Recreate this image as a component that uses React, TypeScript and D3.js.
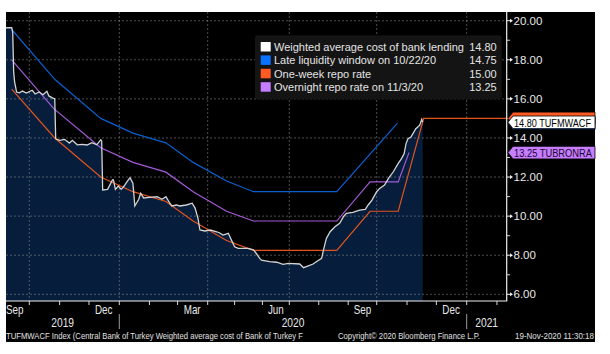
import React from "react";
import * as d3 from "d3";

// Weighted average cost of bank lending (TUFMWACF)
const wacf: [string, number][] = [
  ["2019-09-07", 19.64], ["2019-09-13", 19.64], ["2019-09-14", 19.42], ["2019-09-15", 17.37],
  ["2019-09-16", 16.86], ["2019-09-18", 16.35], ["2019-09-21", 16.31], ["2019-09-24", 16.4],
  ["2019-09-28", 16.3], ["2019-10-04", 16.44], ["2019-10-07", 16.25], ["2019-10-11", 16.35],
  ["2019-10-15", 16.21], ["2019-10-19", 16.39], ["2019-10-21", 16.15], ["2019-10-25", 16.04],
  ["2019-10-27", 16.01], ["2019-10-28", 13.96], ["2019-11-01", 13.88], ["2019-11-06", 13.93],
  ["2019-11-11", 13.74], ["2019-11-14", 13.88], ["2019-11-19", 13.65], ["2019-11-24", 13.67],
  ["2019-11-29", 13.64], ["2019-12-04", 13.76], ["2019-12-09", 13.65], ["2019-12-13", 13.91],
  ["2019-12-14", 13.85], ["2019-12-15", 11.34], ["2019-12-20", 11.37], ["2019-12-25", 11.85],
  ["2019-12-26", 11.85], ["2019-12-28", 11.37], ["2019-12-31", 11.54], ["2020-01-03", 11.37],
  ["2020-01-06", 11.54], ["2020-01-09", 11.76], ["2020-01-12", 11.97], ["2020-01-15", 11.68],
  ["2020-01-17", 10.52], ["2020-01-21", 10.86], ["2020-01-23", 11.17], ["2020-01-26", 10.93],
  ["2020-02-01", 10.96], ["2020-02-09", 10.99], ["2020-02-14", 10.86], ["2020-02-18", 10.99],
  ["2020-02-21", 10.74], ["2020-02-24", 10.52], ["2020-02-29", 10.57], ["2020-03-03", 10.52],
  ["2020-03-10", 10.57], ["2020-03-16", 10.66], ["2020-03-19", 10.41], ["2020-03-22", 9.89],
  ["2020-03-24", 9.29], ["2020-03-29", 9.24], ["2020-04-04", 9.29], ["2020-04-11", 9.2],
  ["2020-04-14", 9.15], ["2020-04-18", 9.03], ["2020-04-24", 9.12], ["2020-04-26", 8.92],
  ["2020-05-01", 8.43], ["2020-05-05", 8.35], ["2020-05-16", 8.35], ["2020-05-22", 8.27],
  ["2020-05-25", 8.1], ["2020-05-29", 7.84], ["2020-05-31", 7.75], ["2020-06-09", 7.67],
  ["2020-06-17", 7.64], ["2020-06-24", 7.53], ["2020-06-30", 7.58], ["2020-07-12", 7.55],
  ["2020-07-16", 7.36], ["2020-07-21", 7.45], ["2020-07-26", 7.55], ["2020-07-31", 7.72],
  ["2020-08-04", 7.84], ["2020-08-06", 8.27], ["2020-08-09", 8.86], ["2020-08-13", 9.2],
  ["2020-08-18", 9.46], ["2020-08-23", 9.63], ["2020-08-27", 9.97], ["2020-08-30", 10.14],
  ["2020-09-06", 10.19], ["2020-09-13", 10.31], ["2020-09-19", 10.35], ["2020-09-22", 10.57],
  ["2020-09-26", 10.82], ["2020-10-01", 11.25], ["2020-10-04", 11.42], ["2020-10-09", 11.59],
  ["2020-10-13", 11.93], ["2020-10-18", 12.27], ["2020-10-23", 12.7], ["2020-10-26", 12.92],
  ["2020-10-29", 13.19], ["2020-10-31", 13.71], ["2020-11-02", 13.96], ["2020-11-05", 14.05],
  ["2020-11-10", 14.47], ["2020-11-14", 14.65], ["2020-11-16", 14.95], ["2020-11-17", 14.8],
];

// Late liquidity window
const lateLiquidity: [string, number][] = [
  ["2019-09-13", 19.55], ["2019-10-27", 17.0], ["2019-12-13", 15.0], ["2020-01-15", 14.25],
  ["2020-02-18", 13.75], ["2020-03-17", 12.75], ["2020-04-22", 11.8], ["2020-05-22", 11.25],
  ["2020-08-20", 11.25], ["2020-10-22", 14.75],
];

// One-week repo rate
const oneWeekRepo: [string, number][] = [
  ["2019-09-13", 16.5], ["2019-10-27", 14.0], ["2019-12-13", 12.0], ["2020-01-15", 11.25],
  ["2020-02-18", 10.75], ["2020-03-17", 9.75], ["2020-04-22", 8.75], ["2020-05-22", 8.25],
  ["2020-08-20", 8.25], ["2020-09-24", 10.25], ["2020-10-23", 10.25], ["2020-11-18", 15.0],
  ["2021-02-11", 15.0],
];

// Overnight repo rate
const overnightRepo: [string, number][] = [
  ["2019-09-13", 18.0], ["2019-10-26", 15.5], ["2019-12-13", 13.5], ["2020-01-15", 12.75],
  ["2020-02-18", 12.25], ["2020-03-17", 11.25], ["2020-04-22", 10.25], ["2020-05-22", 9.75],
  ["2020-08-20", 9.75], ["2020-09-24", 11.75], ["2020-10-23", 11.75], ["2020-11-03", 13.25],
];

const legendLabels = [
  "Weighted average cost of bank lending",
  "Late liquidity window on 10/22/20",
  "One-week repo rate",
  "Overnight repo rate on 11/3/20",
];
const legendValues = ["14.80", "14.75", "15.00", "13.25"];
const legendColors = ["#ffffff", "#0a72ff", "#ff5a22", "#c77dff"];
const lineColors = ["#d4d4d4", "#0a5fd0", "#e2531f", "#a45ad8"];

const yTicks = [6, 8, 10, 12, 14, 16, 18, 20];
const yMinor = [7, 9, 11, 13, 15, 17, 19];
const monthLabels: [string, string][] = [
  ["2019-09-16", "Sep"], ["2019-12-16", "Dec"], ["2020-03-16", "Mar"],
  ["2020-06-16", "Jun"], ["2020-09-16", "Sep"], ["2020-12-16", "Dec"],
];
const years = ["2019", "2020", "2021"];
const gridDates = ["2019-10-01", "2020-01-01", "2020-04-01", "2020-07-01", "2020-10-01", "2021-01-01"];

const parse = d3.timeParse("%Y-%m-%d");
const FONT = "'Liberation Sans', Arial, sans-serif";

export default function App() {
  const W = 610, H = 354;
  const L = 6, R = 506.7, T = 12, B = 301;

  const x = d3
    .scaleTime()
    .domain(
      ["2019-09-01", "2019-10-01", "2020-01-01", "2020-04-01", "2020-07-01", "2020-10-01", "2021-01-01", "2021-02-11"].map(
        (s) => parse(s) as Date
      )
    )
    .range([0, 29.3, 119.3, 207.7, 289.3, 376.7, 466.7, 506.7]);
  const y = d3.scaleLinear().domain([6, 20]).range([294.3, 20.7]);

  const pts = (arr: [string, number][]) =>
    arr.map(([d, v]) => [x(parse(d) as Date), y(v)] as [number, number]);
  const line = d3.line<[number, number]>();
  const area = d3
    .area<[number, number]>()
    .x((d) => d[0])
    .y0(B)
    .y1((d) => d[1]);

  const series = [wacf, lateLiquidity, oneWeekRepo, overnightRepo];
  const drawOrder = [2, 3, 1, 0];

  const months = d3.timeMonth.range(parse("2019-10-01") as Date, parse("2021-02-12") as Date);
  const yearBounds = [L, x(parse("2020-01-01") as Date), x(parse("2021-01-01") as Date), R];

  const tag = (yc: number, h: number) =>
    `M508,${yc} L513,${yc - h / 2} L595,${yc - h / 2} L595,${yc + h / 2} L513,${yc + h / 2} Z`;

  return (
    <div style={{ position: "absolute", left: 0, top: 0 }}>
      <svg width={W} height={H} style={{ display: "block", fontFamily: FONT }}>
        <rect x={0} y={0} width={W} height={H} fill="#ffffff" />
        <rect x={L} y={T} width={595 - L} height={342 - T} fill="#000000" />
        <defs>
          <clipPath id="plot">
            <rect x={L} y={T} width={R - L} height={B - T} />
          </clipPath>
        </defs>
        <g clipPath="url(#plot)">
          <path d={area(pts(wacf)) || ""} fill="#061e3c" />
          {yTicks.map((t) => (
            <line key={"h" + t} x1={L} x2={R} y1={y(t)} y2={y(t)} stroke="#8c8c8c" strokeOpacity={0.55} strokeDasharray="2,2" />
          ))}
          {gridDates.map((g) => (
            <line key={"v" + g} x1={x(parse(g) as Date)} x2={x(parse(g) as Date)} y1={T} y2={B} stroke="#8c8c8c" strokeOpacity={0.55} strokeDasharray="2,2" />
          ))}
          {drawOrder.map((i) => (
            <path key={"s" + i} d={line(pts(series[i])) || ""} fill="none" stroke={lineColors[i]} strokeWidth={i === 0 ? 1.3 : 1.2} />
          ))}
        </g>

        {/* Legend */}
        <rect x={255} y={35.3} width={246.7} height={64} rx={3} fill="#141414" />
        {legendLabels.map((lab, i) => {
          const by = 50.7 + i * 13.4;
          return (
            <g key={"lg" + i}>
              <rect x={260.7} y={by - 8.7} width={10} height={9.5} fill={legendColors[i]} />
              <text x={274} y={by} fontSize={11} fill="#e4e4e4">{lab}</text>
              <text x={496.7} y={by} fontSize={11} fill="#e4e4e4" textAnchor="end">{legendValues[i]}</text>
            </g>
          );
        })}

        {/* Axes */}
        <line x1={L} x2={R + 0.5} y1={B} y2={B} stroke="#f0f0f0" strokeWidth={1.2} />
        <line x1={R} x2={R} y1={T} y2={B} stroke="#f0f0f0" strokeWidth={1.2} />
        {yTicks.map((t) => (
          <g key={"yt" + t}>
            <line x1={R} x2={511} y1={y(t)} y2={y(t)} stroke="#f0f0f0" />
            <path d={`M510,${y(t) - 2} L513,${y(t)} L510,${y(t) + 2} Z`} fill="#f0f0f0" />
            <text x={513.5} y={y(t) + 4.1} fontSize={11.5} fill="#e8e8e8">{t.toFixed(2)}</text>
          </g>
        ))}
        {yMinor.map((t) => (
          <line key={"ym" + t} x1={R} x2={510} y1={y(t)} y2={y(t)} stroke="#d0d0d0" />
        ))}
        {months.map((m, i) => (
          <line key={"mt" + i} x1={x(m)} x2={x(m)} y1={B} y2={B + 4} stroke="#d8d8d8" />
        ))}
        {monthLabels.map(([d, lab], i) => (
          <text key={"ml" + i} transform={`translate(${x(parse(d) as Date)},313.5) scale(0.82,1)`} fontSize={12} fill="#e8e8e8" textAnchor="middle">
            {lab}
          </text>
        ))}
        {[yearBounds[1], yearBounds[2]].map((bx, i) => (
          <line key={"ys" + i} x1={bx} x2={bx} y1={314} y2={329} stroke="#9a9a9a" />
        ))}
        {years.map((yr, i) => (
          <text key={"yr" + yr} transform={`translate(${(yearBounds[i] + yearBounds[i + 1]) / 2},327.3) scale(0.85,1)`} fontSize={12} fill="#e8e8e8" textAnchor="middle">
            {yr}
          </text>
        ))}

        {/* Footer */}
        <text x={6} y={338.5} fontSize={8.5} fill="#e0e0e0" textLength={297} lengthAdjust="spacingAndGlyphs">
          TUFMWACF Index (Central Bank of Turkey Weighted average cost of Bank of Turkey F
        </text>
        <text x={338} y={338.5} fontSize={8.5} fill="#e0e0e0" textLength={142} lengthAdjust="spacingAndGlyphs">
          Copyright© 2020 Bloomberg Finance L.P.
        </text>
        <text x={515} y={338.5} fontSize={8.5} fill="#e0e0e0" textLength={79} lengthAdjust="spacingAndGlyphs">
          19-Nov-2020 11:30:18
        </text>

        {/* Right-side value tags */}
        <path d={tag(y(15.0), 12.6)} fill="#ff5a22" stroke="#000" strokeWidth={0.8} />
        <path d={tag(y(14.75), 12.6)} fill="#0a72ff" stroke="#000" strokeWidth={0.8} />
        <path d={tag(y(14.8), 12.6)} fill="#ffffff" stroke="#000" strokeWidth={0.8} />
        <text x={514} y={y(14.8) + 4.2} fontSize={11.5} fill="#000" textLength={77} lengthAdjust="spacingAndGlyphs">
          14.80 TUFMWACF
        </text>
        <path d={tag(y(13.25), 12.6)} fill="#c77dff" stroke="#000" strokeWidth={0.8} />
        <text x={514} y={y(13.25) + 4.2} fontSize={11.5} fill="#1a0630" textLength={78} lengthAdjust="spacingAndGlyphs">
          13.25 TUBRONRA
        </text>
      </svg>
    </div>
  );
}
